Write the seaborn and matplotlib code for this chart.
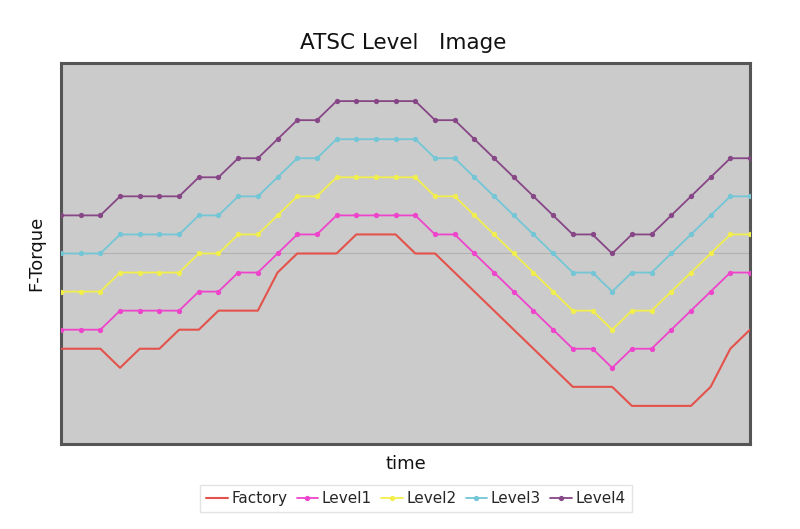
import matplotlib
matplotlib.use("Agg")
import matplotlib.pyplot as plt
import seaborn as sns
import numpy as np
import pandas as pd

time = list(range(36))
factory = [5, 5, 5, 4, 5, 5, 6, 6, 7, 7, 7, 9, 10, 10, 10, 11, 11, 11, 10, 10,
           9, 8, 7, 6, 5, 4, 3, 3, 3, 2, 2, 2, 2, 3, 5, 6]
level4 = [12, 12, 12, 13, 13, 13, 13, 14, 14, 15, 15, 16, 17, 17, 18, 18, 18, 18, 18, 17,
          17, 16, 15, 14, 13, 12, 11, 11, 10, 11, 11, 12, 13, 14, 15, 15]
level3 = [v - 2 for v in level4]
level2 = [v - 4 for v in level4]
level1 = [v - 6 for v in level4]

series_names = ["Factory", "Level1", "Level2", "Level3", "Level4"]
series_vals = [factory, level1, level2, level3, level4]
colors = ["#e4524c", "#ee44cc", "#f2ee4c", "#72c6d6", "#874686"]

sns.set_theme(style="white")
plt.rcParams['font.family'] = ['DejaVu Sans']

fig = plt.figure(figsize=(8, 5.29), dpi=100)
ax = fig.add_axes([0.07625, 0.1607, 0.86125, 0.7202])
ax.set_facecolor("#cbcbcb")

ax.axhline(10, color="#b2b2b2", lw=0.8, zorder=1)

for name, vals, c in zip(series_names, series_vals, colors):
    df = pd.DataFrame({"time": time, "val": vals})
    if name == "Factory":
        sns.lineplot(data=df, x="time", y="val", ax=ax, color=c, lw=2.1,
                     label=name, zorder=3)
    else:
        sns.lineplot(data=df, x="time", y="val", ax=ax, color=c, lw=1.3,
                     marker="o", markersize=3.8, markeredgewidth=0,
                     label=name, zorder=3)

ax.set_xlim(0, 35)
ax.set_ylim(0, 20)
ax.set_xticks([])
ax.set_yticks([])
for s in ax.spines.values():
    s.set_visible(True)
    s.set_color("#555555")
    s.set_linewidth(2.2)

ax.set_xlabel("time", fontsize=13, labelpad=8, color="#111111")
ax.set_ylabel("F-Torque", fontsize=13, labelpad=11, color="#111111")
ax.set_title("ATSC Level   Image", fontsize=15.5, pad=10, color="#111111", x=0.497)

ax.get_legend().remove()
handles, labels = ax.get_legend_handles_labels()
handles[0].set_linewidth(1.5)
leg = fig.legend(handles, labels, loc="center", bbox_to_anchor=(0.52, 0.057),
                 ncol=5, frameon=True, fancybox=False, fontsize=11,
                 handlelength=1.4, handletextpad=0.25, columnspacing=0.6,
                 borderpad=0.4, edgecolor="#dddddd")
leg.get_frame().set_linewidth(1.0)

fig.savefig("out.png", dpi=100, facecolor="white")
